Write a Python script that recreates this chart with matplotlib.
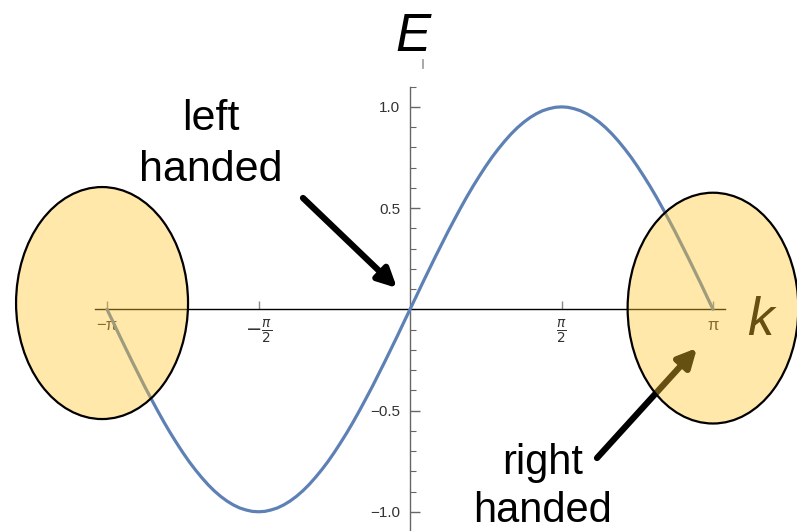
import numpy as np
from matplotlib import pyplot as plt
from matplotlib.lines import Line2D
from matplotlib.patches import Ellipse
from matplotlib.ticker import FixedLocator

plt.rcParams['font.family'] = ['Liberation Sans', 'DejaVu Sans']
plt.rcParams['mathtext.fontset'] = 'dejavusans'

# dispersion E(k) in steps of pi/48
k = np.linspace(-np.pi, np.pi, 97)
E = [0.000, -0.065, -0.131, -0.195, -0.259, -0.321, -0.383, -0.442, -0.500, -0.556,
     -0.609, -0.659, -0.707, -0.752, -0.793, -0.831, -0.866, -0.897, -0.924, -0.947,
     -0.966, -0.981, -0.991, -0.998, -1.000, -0.998, -0.991, -0.981, -0.966, -0.947,
     -0.924, -0.897, -0.866, -0.831, -0.793, -0.752, -0.707, -0.659, -0.609, -0.556,
     -0.500, -0.442, -0.383, -0.321, -0.259, -0.195, -0.131, -0.065,
     0.000, 0.065, 0.131, 0.195, 0.259, 0.321, 0.383, 0.442, 0.500, 0.556,
     0.609, 0.659, 0.707, 0.752, 0.793, 0.831, 0.866, 0.897, 0.924, 0.947,
     0.966, 0.981, 0.991, 0.998, 1.000, 0.998, 0.991, 0.981, 0.966, 0.947,
     0.924, 0.897, 0.866, 0.831, 0.793, 0.752, 0.707, 0.659, 0.609, 0.556,
     0.500, 0.442, 0.383, 0.321, 0.259, 0.195, 0.131, 0.065, 0.000]

x_ticks = [-np.pi, -np.pi / 2, np.pi / 2, np.pi]
x_labels = ['\u2212\u03c0', r'$-\frac{\pi}{2}$', r'$\frac{\pi}{2}$', '\u03c0']
y_ticks = [-1.0, -0.5, 0.5, 1.0]
y_labels = ['\u22121.0', '\u22120.5', '0.5', '1.0']
y_minor = np.round(np.arange(-1.0, 1.11, 0.1), 1)

W, H = 797, 531


def fig_px(x, y):
    # pixel position (from top left) -> figure fraction
    return (x / W, 1 - y / H)


fig = plt.figure(figsize=(W / 100, H / 100), dpi=100)
ax = fig.add_axes([0, 0, 1, 1])
ax.set_xlim(-4.251, 4.012)
ax.set_ylim(-1.095, 1.528)

ax.plot(k, E, color='#5E81B5', lw=2.3, zorder=4, solid_capstyle='round')

# axes through the origin
for s in ['top', 'right']:
    ax.spines[s].set_visible(False)
ax.spines['bottom'].set_position(('data', 0))
ax.spines['left'].set_position(('data', 0))
ax.spines['bottom'].set_bounds(-3.27, 3.27)
ax.spines['left'].set_bounds(-1.095, 1.10)
ax.spines['bottom'].set_color('black')
ax.spines['bottom'].set_linewidth(1.0)
ax.spines['left'].set_color('#666666')
ax.spines['left'].set_linewidth(1.0)
ax.patch.set_visible(False)

ax.set_xticks(x_ticks)
ax.set_xticklabels(x_labels)
ax.set_yticks(y_ticks)
ax.set_yticklabels(y_labels)
ax.yaxis.set_minor_locator(FixedLocator(y_minor))
ax.tick_params(axis='x', direction='in', length=6, width=1, color='#888888',
               labelsize=12, labelcolor='#333333', pad=6)
ax.tick_params(axis='y', which='major', direction='in', length=7, width=1, color='#666666',
               labelsize=11, labelcolor='#333333', pad=7)
ax.tick_params(axis='y', which='minor', direction='in', length=4, width=0.8, color='#666666')
for lab in ax.get_xticklabels()[1:3]:
    lab.set_fontsize(14)

# axis labels
ax.text(*fig_px(413, 51), 'E', transform=fig.transFigure, fontsize=38, style='italic',
        ha='center', va='baseline')
fig.add_artist(Line2D([423 / W, 423 / W], [1 - 60 / H, 1 - 68 / H], color='#999999', lw=1.2))
ax.text(*fig_px(760, 335), 'k', transform=fig.transFigure, fontsize=38, style='italic',
        ha='center', va='baseline', zorder=3)

# chirality annotations
ax.text(*fig_px(211, 130), 'left', transform=fig.transFigure, fontsize=31, ha='center',
        va='baseline')
ax.text(*fig_px(211, 181), 'handed', transform=fig.transFigure, fontsize=31, ha='center',
        va='baseline')
ax.text(*fig_px(543, 474), 'right', transform=fig.transFigure, fontsize=30, ha='center',
        va='baseline')
ax.text(*fig_px(543, 522), 'handed', transform=fig.transFigure, fontsize=30, ha='center',
        va='baseline')

ax.annotate('', xy=fig_px(397, 288), xytext=fig_px(303, 198),
            xycoords='figure fraction', textcoords='figure fraction',
            arrowprops=dict(arrowstyle='-|>', lw=4.5, color='black', mutation_scale=28,
                            shrinkA=0, shrinkB=0), zorder=5)
ax.annotate('', xy=fig_px(697, 348), xytext=fig_px(597, 458),
            xycoords='figure fraction', textcoords='figure fraction',
            arrowprops=dict(arrowstyle='-|>', lw=4.5, color='black', mutation_scale=28,
                            shrinkA=0, shrinkB=0), zorder=5)

# highlighted zone-edge regions
for cx, cy, w, h in [(-3.193, 0.031, 1.783, 1.146), (3.141, 0.006, 1.77, 1.14)]:
    ax.add_patch(Ellipse((cx, cy), w, h, facecolor=(1.0, 0.775, 0.167, 0.4),
                         edgecolor='black', lw=1.6, zorder=10))

fig.savefig('out.png', dpi=100)
